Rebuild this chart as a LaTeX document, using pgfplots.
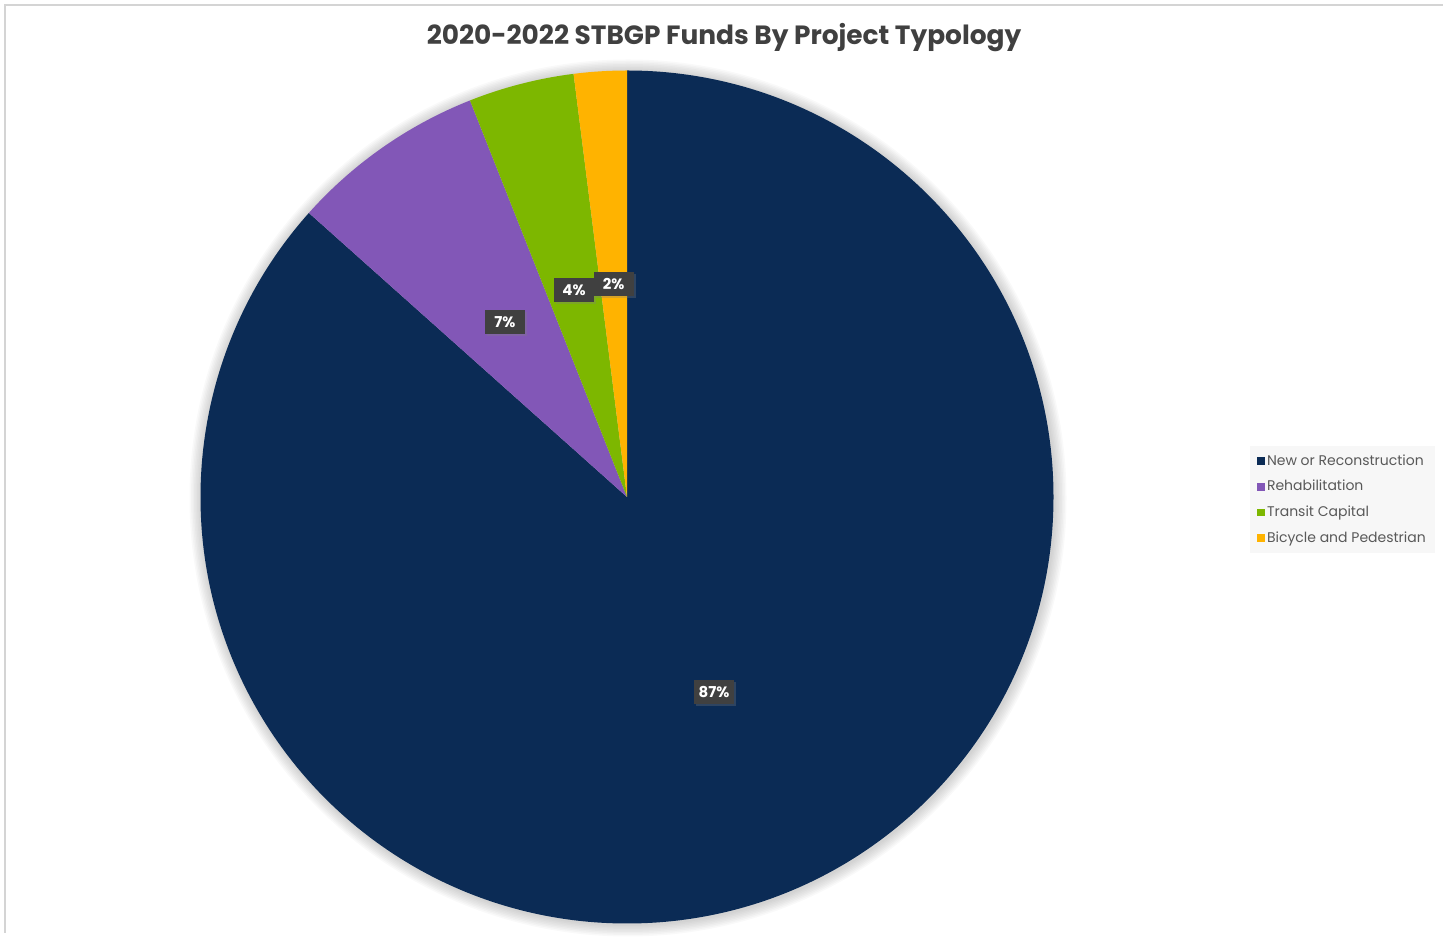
\documentclass[border=0pt]{standalone}
\usepackage{pgfplots}
\pgfplotsset{compat=1.18}
\usepackage{fontspec}
\setmainfont{Poppins}
\usetikzlibrary{shadows}
\definecolor{cNew}{HTML}{0B2B55}
\definecolor{cReh}{HTML}{8257B7}
\definecolor{cTra}{HTML}{7DB700}
\definecolor{cBic}{HTML}{FFB300}
\definecolor{txt}{HTML}{404040}
\definecolor{legtxt}{HTML}{595959}
\begin{document}
\begin{tikzpicture}
\begin{axis}[
  scale only axis, width=725pt, height=466.5pt,
  xmin=0, xmax=1450, ymin=0, ymax=933,
  hide axis, clip=false,
  legend style={at={(axis cs:1250,487)}, anchor=north west,
    fill=black!3, draw=none, font=\fontsize{7}{8}\selectfont,
    nodes={text=legtxt, inner sep=1pt}, inner xsep=3.5pt, inner ysep=3pt,
    row sep=4pt},
  legend cell align=left,
  legend image code/.code={\fill[#1, draw=none] (0pt,-1.9pt) rectangle (3.8pt,1.9pt);},
]
\addlegendimage{fill=cNew} \addlegendentry{New or Reconstruction}
\addlegendimage{fill=cReh} \addlegendentry{Rehabilitation}
\addlegendimage{fill=cTra} \addlegendentry{Transit Capital}
\addlegendimage{fill=cBic} \addlegendentry{Bicycle and Pedestrian}
\pgfplotsextra{
  \path (axis cs:0,0) rectangle (axis cs:1450,933);
  \draw[black!17, line width=1pt] (axis cs:5,0) -- (axis cs:5,928) -- (axis cs:1443,928);
  % soft shadow round the pie
  \foreach \i in {1,...,8}
    \fill[black, opacity=0.025] (axis cs:628,435) circle[radius={(426.5+1.5*\i)*0.5pt}];
  % wedges, clockwise from 12 o'clock (shares in percent)
  \gdef\pieStart{90}
  \foreach \v/\col in {86.6/cNew, 7.4/cReh, 4.0/cTra, 2.0/cBic}{
    \pgfmathsetmacro\pieEnd{\pieStart-3.6*\v}
    \fill[\col] (axis cs:627,436) -- ++(\pieStart:213.25pt)
      arc[start angle=\pieStart, end angle=\pieEnd, radius=213.25pt] -- cycle;
    \global\let\pieStart\pieEnd
  }
  % data labels at half the radius
  \gdef\pieStart{90}
  \foreach \v/\lab in {86.6/87, 7.4/7, 4.0/4, 2.0/2}{
    \pgfmathsetmacro\pieEnd{\pieStart-3.6*\v}
    \pgfmathsetmacro\pieMid{(\pieStart+\pieEnd)/2}
    \path (axis cs:627,436) ++(\pieMid:106.6pt) node[fill=txt, text=white,
      font=\bfseries\fontsize{7.5}{9}\selectfont, minimum width=20pt,
      minimum height=12pt, inner sep=0pt,
      drop shadow={opacity=0.3, shadow xshift=1pt, shadow yshift=-1pt}]
      {\lab\%};
    \global\let\pieStart\pieEnd
  }
  \node[font=\bfseries\fontsize{13.2}{16}\selectfont, text=txt]
    at (axis cs:724,895) {2020-2022 STBGP Funds By Project Typology};
}
\end{axis}
\end{tikzpicture}
\end{document}
